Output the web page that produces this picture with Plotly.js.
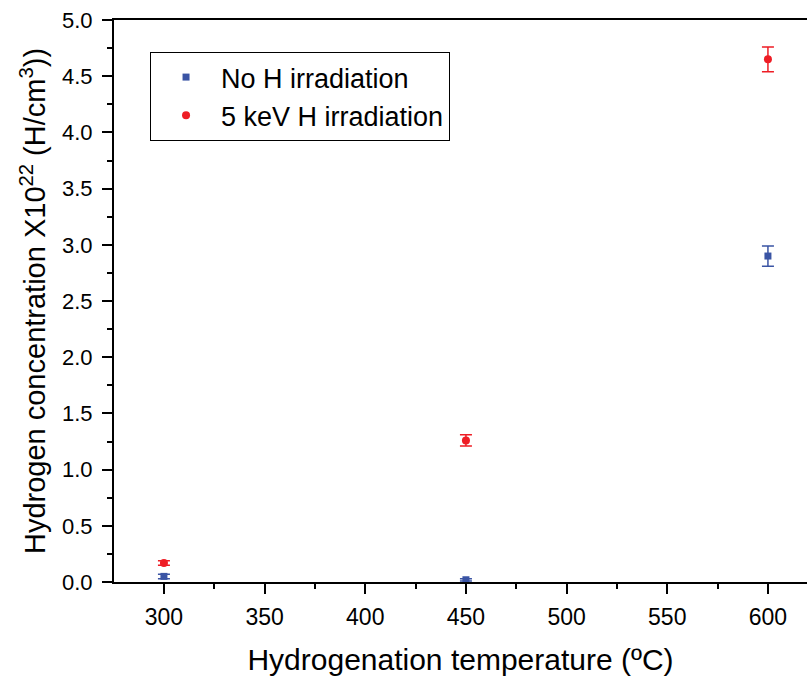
<!DOCTYPE html>
<html>
<head>
<meta charset="utf-8">
<script src="https://cdn.plot.ly/plotly-3.0.1.min.js"></script>
<style>html,body{margin:0;padding:0;background:#fff;}#chart{width:807px;height:676px;}</style>
</head>
<body>
<div id="chart"></div>
<script>
const temperatures = [300, 450, 600];
const noIrradiation = [0.05, 0.02, 2.90];
const noIrradiationErr = [0.02, 0.01, 0.09];
const irradiation5keV = [0.17, 1.26, 4.65];
const irradiation5keVErr = [0.02, 0.05, 0.11];
const seriesNames = ["No H irradiation", "5 keV H irradiation"];

const traces = [
  {
    x: temperatures, y: noIrradiation, name: seriesNames[0],
    type: 'scatter', mode: 'markers',
    marker: {symbol: 'square', size: 7, color: '#3a54a4'},
    error_y: {type: 'data', array: noIrradiationErr, visible: true, color: '#3a54a4', thickness: 1.5, width: 6}
  },
  {
    x: temperatures, y: irradiation5keV, name: seriesNames[1],
    type: 'scatter', mode: 'markers',
    marker: {symbol: 'circle', size: 8, color: '#ee1d25'},
    error_y: {type: 'data', array: irradiation5keVErr, visible: true, color: '#ee1d25', thickness: 1.5, width: 6}
  }
];

const font = 'Liberation Sans, Arial, sans-serif';
const layout = {
  width: 807, height: 676,
  margin: {l: 114, r: 0, t: 20, b: 94},
  paper_bgcolor: '#fff', plot_bgcolor: '#fff',
  font: {family: font, color: '#000'},
  showlegend: true,
  legend: {
    x: 0.052, y: 0.943, xanchor: 'left', yanchor: 'top',
    bordercolor: '#000', borderwidth: 1, bgcolor: '#fff',
    font: {family: font, size: 27, color: '#000'},
    itemwidth: 60, tracegroupgap: 0
  },
  xaxis: {
    range: [275.2, 619.4], tickvals: [300,350,400,450,500,550,600],
    ticks: 'outside', ticklen: 10, tickwidth: 2, tickcolor: '#000',
    minor: {dtick: 25, tick0: 0, ticks: 'outside', ticklen: 5, tickwidth: 2, tickcolor: '#000'},
    showline: true, linecolor: '#000', linewidth: 2, mirror: true,
    showgrid: false, zeroline: false, ticklabelstandoff: 3,
    tickfont: {family: font, size: 23, color: '#000'},
    title: {text: 'Hydrogenation temperature (ºC)', font: {family: font, size: 30, color: '#000'}, standoff: 20}
  },
  yaxis: {
    range: [0, 5], dtick: 0.5, tick0: 0, tickformat: '.1f',
    ticks: 'outside', ticklen: 10, tickwidth: 2, tickcolor: '#000',
    minor: {dtick: 0.25, ticks: 'outside', ticklen: 5, tickwidth: 2, tickcolor: '#000'},
    showline: true, linecolor: '#000', linewidth: 2,
    showgrid: false, zeroline: false, ticklabelstandoff: 5,
    tickfont: {family: font, size: 22, color: '#000'},
    title: {text: 'Hydrogen concentration X10<sup>22</sup> (H/cm<sup>3</sup>))', font: {family: font, size: 29, color: '#000'}, standoff: 8}
  }
};

Plotly.newPlot('chart', traces, layout, {displayModeBar: false, staticPlot: true});
</script>
</body>
</html>
